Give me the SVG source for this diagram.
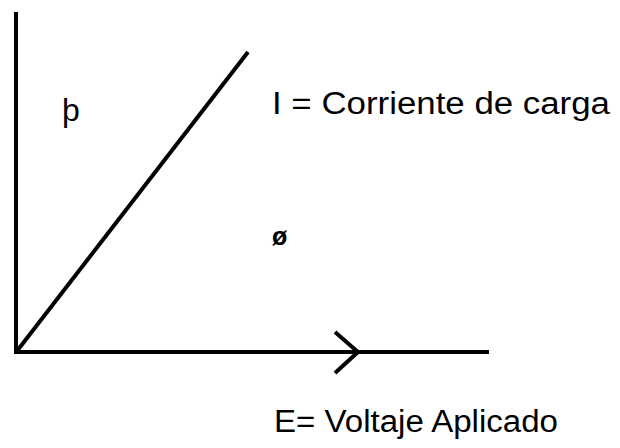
<svg xmlns="http://www.w3.org/2000/svg" width="620" height="448" viewBox="0 0 620 448">
<style>
.ax{stroke:#000;stroke-width:4;fill:none;stroke-linecap:butt}
.t{font-family:"Liberation Sans",Arial,sans-serif;fill:#000}
</style>
<rect width="620" height="448" fill="#fff"/>
<g id="connectors">
<line class="ax" x1="16" y1="12" x2="16" y2="352"/>
<line class="ax" x1="14" y1="352" x2="489" y2="352"/>
<line class="ax" x1="17" y1="351" x2="248" y2="52"/>
<polyline class="ax" points="335,332 358,352 335,373"/>
</g>
<g id="label-thorn"><text class="t" x="62" y="121" font-size="32">þ</text></g>
<g id="label-current"><text class="t" x="272" y="114" font-size="31" textLength="338" lengthAdjust="spacingAndGlyphs">I = Corriente de carga</text></g>
<g id="label-phi"><text class="t" x="272" y="245" font-size="25" font-weight="bold">ø</text></g>
<g id="label-voltage"><text class="t" x="274" y="432" font-size="31" textLength="284" lengthAdjust="spacingAndGlyphs">E= Voltaje Aplicado</text></g>
</svg>
